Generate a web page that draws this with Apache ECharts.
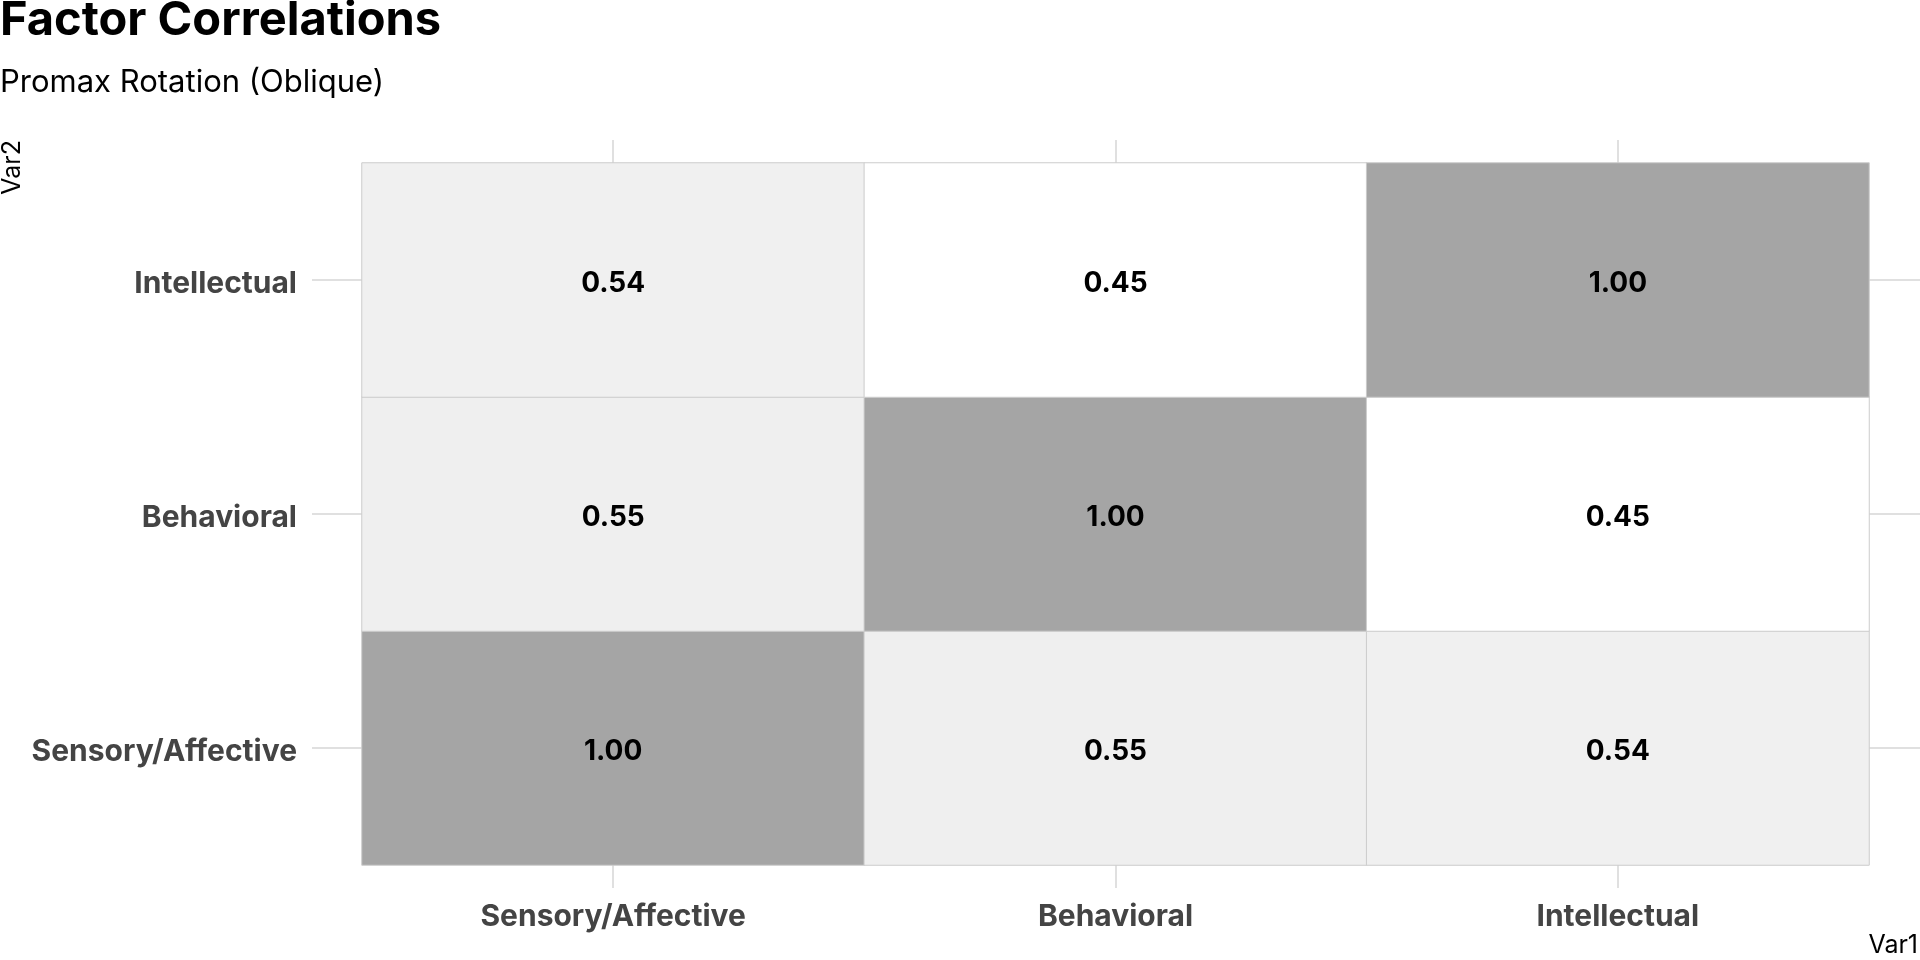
<!DOCTYPE html>
<html>
<head>
<meta charset="utf-8">
<script src="https://cdn.jsdelivr.net/npm/echarts@6/dist/echarts.min.js"></script>
<style>
html,body{margin:0;padding:0;background:#fff;}
#chart{width:1920px;height:960px;}
</style>
</head>
<body>
<div id="chart"></div>
<script>
const xCategories = ['Sensory/Affective', 'Behavioral', 'Intellectual'];
const yCategories = ['Sensory/Affective', 'Behavioral', 'Intellectual'];
// correlations[yIndex][xIndex]
const correlations = [
  [1.00, 0.55, 0.54],
  [0.55, 1.00, 0.45],
  [0.54, 0.45, 1.00]
];
const titleText = 'Factor Correlations';
const subtitleText = 'Promax Rotation (Oblique)';
const xAxisTitle = 'Var1';
const yAxisTitle = 'Var2';

const heatData = [];
yCategories.forEach((y, yi) => {
  xCategories.forEach((x, xi) => {
    heatData.push([xi, yi, correlations[yi][xi]]);
  });
});

const FONT = 'Inter';
const gridLine = { color: '#d6d6d6', width: 1.5 };

const chart = echarts.init(document.getElementById('chart'), null, { renderer: 'canvas' });
chart.setOption({
  backgroundColor: '#ffffff',
  animation: false,
  textStyle: { fontFamily: FONT },
  title: [
    { text: titleText, left: 0, top: -3, padding: 0,
      textStyle: { fontFamily: FONT, fontSize: 47, fontWeight: 'bold', color: '#000' } },
    { text: subtitleText, left: 0, top: 67, padding: 0,
      textStyle: { fontFamily: FONT, fontSize: 31, fontWeight: 'normal', color: '#000' } }
  ],
  grid: { left: 362, right: 51, top: 163, bottom: 95, containLabel: false },
  xAxis: [
    { type: 'category', data: xCategories, position: 'bottom',
      axisLine: { show: false },
      axisTick: { show: true, alignWithLabel: true, length: 23, lineStyle: gridLine },
      axisLabel: { fontFamily: FONT, fontSize: 30, fontWeight: 'bold', color: '#444444', margin: 37 },
      splitLine: { show: false } },
    { type: 'category', data: xCategories, position: 'top',
      axisLine: { show: false },
      axisTick: { show: true, alignWithLabel: true, length: 23, lineStyle: gridLine },
      axisLabel: { show: false }, splitLine: { show: false } }
  ],
  yAxis: [
    { type: 'category', data: yCategories, position: 'left',
      axisLine: { show: false },
      axisTick: { show: true, alignWithLabel: true, length: 50, lineStyle: gridLine },
      axisLabel: {
        margin: 65,
        formatter: v => '{l|' + v + '}',
        rich: { l: { fontFamily: FONT, fontSize: 30, fontWeight: 'bold', color: '#444444', padding: [8, 0, 0, 0] } }
      },
      splitLine: { show: false } },
    { type: 'category', data: yCategories, position: 'right',
      axisLine: { show: false },
      axisTick: { show: true, alignWithLabel: true, length: 51, lineStyle: gridLine },
      axisLabel: { show: false }, splitLine: { show: false } }
  ],
  visualMap: {
    show: false, type: 'continuous', dimension: 2,
    min: 0.45, max: 1.0,
    inRange: { color: ['#ffffff', '#a5a5a5'] }
  },
  series: [{
    type: 'heatmap',
    xAxisIndex: 0, yAxisIndex: 0,
    data: heatData,
    itemStyle: { borderColor: '#cccccc', borderWidth: 1 },
    label: {
      show: true,
      formatter: p => p.value[2].toFixed(2),
      offset: [0, 4],
      fontFamily: FONT, fontSize: 28, fontWeight: 'bold', color: '#000000'
    },
    emphasis: { disabled: true }
  }],
  graphic: [
    { type: 'text', right: 2, bottom: 2,
      style: { text: xAxisTitle, fontFamily: FONT, fontSize: 25, fill: '#000', textAlign: 'right' } },
    { type: 'text', x: 0, y: 140, rotation: Math.PI / 2,
      style: { text: yAxisTitle, fontFamily: FONT, fontSize: 25, fill: '#000', textAlign: 'right', textVerticalAlign: 'top' } }
  ]
});
</script>
</body>
</html>
